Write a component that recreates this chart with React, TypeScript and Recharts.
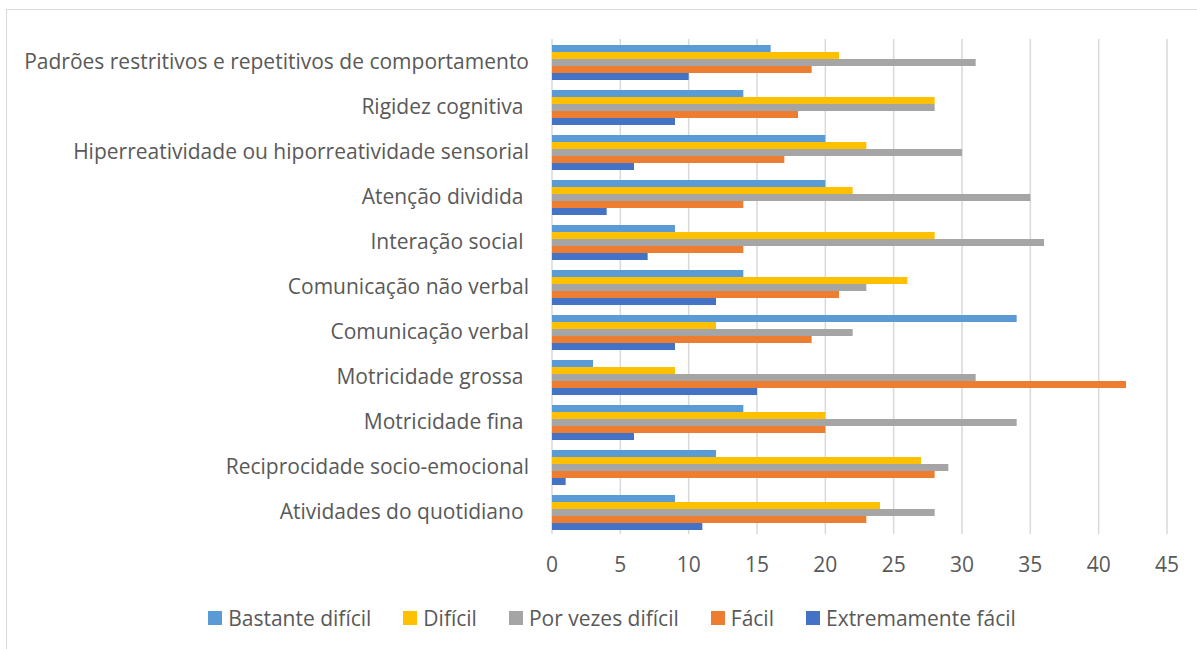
import React from "react";
import { BarChart, Bar, XAxis, YAxis, CartesianGrid, Legend } from "recharts";

const categories = [
  "Padrões restritivos e repetitivos de comportamento",
  "Rigidez cognitiva ",
  "Hiperreatividade ou hiporreatividade sensorial",
  "Atenção dividida ",
  "Interação social ",
  "Comunicação não verbal",
  "Comunicação verbal",
  "Motricidade grossa ",
  "Motricidade fina ",
  "Reciprocidade socio-emocional",
  "Atividades do quotidiano ",
];

const bastanteDificil = [16, 14, 20, 20, 9, 14, 34, 3, 14, 12, 9];
const dificil = [21, 28, 23, 22, 28, 26, 12, 9, 20, 27, 24];
const porVezesDificil = [31, 28, 30, 35, 36, 23, 22, 31, 34, 29, 28];
const facil = [19, 18, 17, 14, 14, 21, 19, 42, 20, 28, 23];
const extremamenteFacil = [10, 9, 6, 4, 7, 12, 9, 15, 6, 1, 11];

const xTicks = [0, 5, 10, 15, 20, 25, 30, 35, 40, 45];

const seriesDefs = [
  { key: "bastante", name: "Bastante difícil", color: "#5B9BD5" },
  { key: "dificil", name: "Difícil", color: "#FFC000" },
  { key: "porvezes", name: "Por vezes difícil", color: "#A5A5A5" },
  { key: "facil", name: "Fácil", color: "#ED7D31" },
  { key: "extremamente", name: "Extremamente fácil", color: "#4472C4" },
];

const data = categories.map((c, i) => ({
  category: c,
  bastante: bastanteDificil[i],
  dificil: dificil[i],
  porvezes: porVezesDificil[i],
  facil: facil[i],
  extremamente: extremamenteFacil[i],
}));

const FONT = "'Open Sans', sans-serif";
const TEXT = "#595959";
const FS = 21;

const YTick = (props: any) => {
  const { x, y, payload } = props;
  return (
    <text
      x={x - 23}
      y={y - 1}
      textAnchor="end"
      dominantBaseline="central"
      fill={TEXT}
      fontSize={FS}
      fontFamily={FONT}
      style={{ whiteSpace: "pre" }}
    >
      {payload.value}
    </text>
  );
};

const LegendContent = () => (
  <div
    style={{
      display: "flex",
      justifyContent: "center",
      alignItems: "center",
      paddingLeft: 20,
      fontFamily: FONT,
      fontSize: FS,
      color: TEXT,
      lineHeight: "29px",
    }}
  >
    {seriesDefs.map((s) => (
      <div key={s.key} style={{ display: "flex", alignItems: "center", margin: "0 16px" }}>
        <span style={{ width: 14, height: 14, background: s.color, display: "inline-block", marginRight: 6 }} />
        <span>{s.name}</span>
      </div>
    ))}
  </div>
);

export default function App() {
  return (
    <div
      style={{
        position: "absolute",
        left: 6,
        top: 8.5,
        width: 1200,
        height: 660,
        borderTop: "1.5px solid #D9D9D9",
        borderLeft: "1.5px solid #D9D9D9",
        background: "#fff",
      }}
    >
      <BarChart
        width={1190}
        height={640}
        data={data}
        layout="vertical"
        margin={{ top: 29, right: 30, bottom: 64, left: 0 }}
        barCategoryGap={6}
        barGap={0}
      >
        <CartesianGrid horizontal={false} stroke="#D9D9D9" strokeWidth={1.5} />
        <XAxis
          type="number"
          domain={[0, 45]}
          ticks={xTicks}
          axisLine={false}
          tickLine={false}
          tickSize={0}
          tickMargin={23}
          height={52}
          tick={{ fill: TEXT, fontSize: FS, fontFamily: FONT }}
          interval={0}
        />
        <YAxis
          type="category"
          dataKey="category"
          width={545}
          axisLine={false}
          tickLine={false}
          tickSize={0}
          tickMargin={0}
          tick={<YTick />}
          interval={0}
        />
        <Legend
          verticalAlign="middle"
          layout="horizontal"
          wrapperStyle={{ top: 594, left: 0, width: 1190 }}
          content={<LegendContent />}
        />
        {seriesDefs.map((s) => (
          <Bar key={s.key} dataKey={s.key} name={s.name} fill={s.color} isAnimationActive={false} />
        ))}
      </BarChart>
    </div>
  );
}
